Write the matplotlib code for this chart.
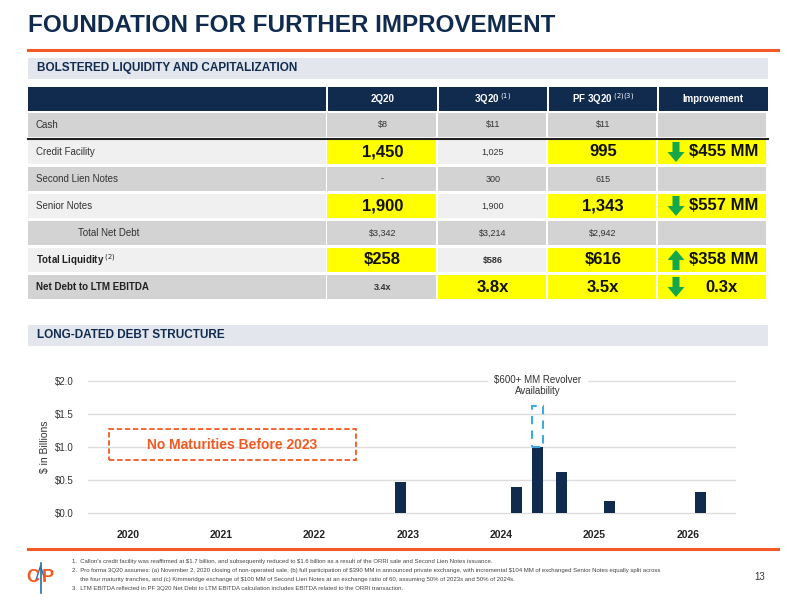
import matplotlib
matplotlib.use("Agg")
import matplotlib.pyplot as plt
from matplotlib.patches import Rectangle, FancyArrow

plt.rcParams['font.family'] = ['Liberation Sans', 'DejaVu Sans']

NAVY = '#112B4F'
ORANGE = '#F15A22'
YEL = '#FFFF00'
GREEN = '#14A84A'

# ---- data ----
row_labels = ['Cash', 'Credit Facility', 'Second Lien Notes', 'Senior Notes',
              'Total Net Debt', 'Total Liquidity', 'Net Debt to LTM EBITDA']
col_2q20 = ['$8', '1,450', '-', '1,900', '$3,342', '$258', '3.4x']
col_3q20 = ['$11', '1,025', '300', '1,900', '$3,214', '$586', '3.8x']
col_pf = ['$11', '995', '615', '1,343', '$2,942', '$616', '3.5x']
col_imp = ['', '$455 MM', '', '$557 MM', '', '$358 MM', '0.3x']
imp_dir = [0, -1, 0, -1, 0, 1, -1]
highlight = [[0, 0, 0, 0], [1, 0, 1, 1], [0, 0, 0, 0], [1, 0, 1, 1],
             [0, 0, 0, 0], [1, 0, 1, 1], [0, 1, 1, 1]]
headers = ['2Q20', '3Q20', 'PF 3Q20', 'Improvement']
header_sup = ['', '(1)', '(2)(3)', '']

years = [2020, 2021, 2022, 2023, 2024, 2025, 2026]
bar_x = [2022.92, 2024.16, 2024.39, 2024.65, 2025.16, 2026.14]
bar_h = [0.47, 0.39, 1.00, 0.62, 0.18, 0.32]
revolver_x = 2024.39
revolver_top = 1.62

fig = plt.figure(figsize=(8, 6), dpi=100)
bg = fig.add_axes([0, 0, 1, 1])
bg.set_xlim(0, 800); bg.set_ylim(600, 0); bg.axis('off')

# title
bg.text(28, 25, 'FOUNDATION FOR FURTHER IMPROVEMENT', fontsize=17.5, fontweight='bold',
        color=NAVY, va='center')
bg.plot([28, 778], [50, 50], color=ORANGE, lw=2.2)
# section bands
for y0, txt in [(58, 'BOLSTERED LIQUIDITY AND CAPITALIZATION'), (325, 'LONG-DATED DEBT STRUCTURE')]:
    bg.add_patch(Rectangle((28, y0), 740, 21, color='#E3E6ED', lw=0))
    bg.text(37, y0 + 10.5, txt, fontsize=8.5, fontweight='bold', color=NAVY, va='center')

# table
colx = [28, 327, 438, 548, 658, 768]
bg.add_patch(Rectangle((28, 87), 740, 24, color=NAVY, lw=0))
for j in range(4):
    cx = (colx[j + 1] + colx[j + 2]) / 2
    bg.add_patch(Rectangle((colx[j + 1] - 1, 87), 1.5, 24, color='white', lw=0))
    lbl = headers[j] + (r'$^{\ %s}$' % header_sup[j] if header_sup[j] else '')
    bg.text(cx, 99, lbl, fontsize=7, fontweight='bold', color='white', ha='center', va='center')

row_h = 24
for i, lab in enumerate(row_labels):
    y0 = 113 + i * 27
    base = '#D3D3D3' if i % 2 == 0 else '#F0F0F0'
    vals = [col_2q20[i], col_3q20[i], col_pf[i], col_imp[i]]
    bg.add_patch(Rectangle((28, y0), 298, row_h, color=base, lw=0))
    bold_row = i >= 5
    if lab == 'Total Net Debt':
        bg.text(78, y0 + 12, lab, fontsize=7, color='#333333', va='center')
    else:
        t = lab + (r'$^{\ (2)}$' if lab == 'Total Liquidity' else '')
        bg.text(36, y0 + 12, t, fontsize=7, color='#222222' if bold_row else '#333333',
                va='center', fontweight='bold' if bold_row else 'normal')
    for j in range(4):
        hl = highlight[i][j]
        bg.add_patch(Rectangle((colx[j + 1], y0), colx[j + 2] - colx[j + 1] - 2, row_h,
                               color=YEL if hl else base, lw=0))
        cx = (colx[j + 1] + colx[j + 2]) / 2
        if j < 3:
            bg.text(cx, y0 + 12, vals[j].replace('$', r'\$'), fontsize=12 if hl else 6.5,
                    fontweight='bold' if (hl or bold_row) else 'normal',
                    color='#111111' if hl else '#333333', ha='center', va='center')
        elif vals[j]:
            d = imp_dir[i]
            ax0 = 676
            if d < 0:
                bg.add_patch(FancyArrow(ax0, y0 + 2, 0, 20, width=7, head_width=17,
                                        head_length=10, length_includes_head=True,
                                        color=GREEN, lw=0))
            else:
                bg.add_patch(FancyArrow(ax0, y0 + 22, 0, -20, width=7, head_width=17,
                                        head_length=10, length_includes_head=True,
                                        color=GREEN, lw=0))
            tx = 724 if vals[j] != '0.3x' else 722
            bg.text(tx, y0 + 12, vals[j].replace('$', r'\$'), fontsize=12, fontweight='bold',
                    color='#111111', ha='center', va='center')
bg.plot([28, 768], [138.5, 138.5], color='#222222', lw=1.5)

# chart
px_l, px_r, px_t, px_b = 88, 735, 381, 513
ax = fig.add_axes([px_l / 800, 1 - px_b / 600, (px_r - px_l) / 800, (px_b - px_t) / 600])
ax.patch.set_alpha(0)
x_left = 2020 + (px_l - 128) / 93.3
x_right = 2020 + (px_r - 128) / 93.3
ax.set_xlim(x_left, x_right)
ax.set_ylim(0, 2.0)
for v in [0, 0.5, 1.0, 1.5, 2.0]:
    ax.axhline(v, color='#DDDDDD', lw=1, zorder=0, clip_on=False)
ax.bar(bar_x, bar_h, width=0.12, color=NAVY, zorder=3)
ax.add_patch(Rectangle((revolver_x - 0.06, 1.0), 0.12, revolver_top - 1.0, fill=False,
                       ls=(0, (4, 3)), lw=1.5, edgecolor='#3FA9E0', zorder=4))
ax.text(revolver_x, 1.93, '\\$600+ MM Revolver\nAvailability', fontsize=7, color='#333333',
        ha='center', va='center', backgroundcolor='white', zorder=5)
ax.add_patch(Rectangle((2019.8, 0.8), 2.64, 0.47, fill=False, ls=(0, (3, 1.5)),
                       lw=1.3, edgecolor=ORANGE, zorder=4))
ax.text(2021.12, 1.035, 'No Maturities Before 2023', fontsize=10, fontweight='bold',
        color=ORANGE, ha='center', va='center')
ax.set_xticks(years)
ax.set_xticklabels([str(y) for y in years], fontsize=7.5, fontweight='bold', color='#222222')
ax.set_yticks([0, 0.5, 1.0, 1.5, 2.0])
ax.set_yticklabels(['\\$0.0', '\\$0.5', '\\$1.0', '\\$1.5', '\\$2.0'], fontsize=7, color='#333333')
ax.tick_params(length=0, pad=12, axis='x')
ax.tick_params(length=0, pad=10, axis='y')
for s in ax.spines.values():
    s.set_visible(False)
ax.set_ylabel('\\$ in Billions', fontsize=7.5, color='#333333', labelpad=4)

# footer
bg.plot([28, 778], [549, 549], color=ORANGE, lw=2.2)
notes = ["1.  Callon's credit facility was reaffirmed at $1.7 billion, and subsequently reduced to $1.6 billion as a result of the ORRI sale and Second Lien Notes issuance.",
         "2.  Pro forma 3Q20 assumes: (a) November 2, 2020 closing of non-operated sale, (b) full participation of $390 MM in announced private exchange, with incremental $104 MM of exchanged Senior Notes equally split across",
         "     the four maturity tranches, and (c) Kimmeridge exchange of $100 MM of Second Lien Notes at an exchange ratio of 60, assuming 50% of 2023s and 50% of 2024s.",
         "3.  LTM EBITDA reflected in PF 3Q20 Net Debt to LTM EBITDA calculation includes EBITDA related to the ORRI transaction."]
for k, n in enumerate(notes):
    bg.text(72, 561 + k * 9.3, n.replace('$', r'\$'), fontsize=4.3, color='#444444', va='center')
bg.text(760, 577, '13', fontsize=7, color='#333333', va='center', ha='center')
bg.text(33, 577, 'C', fontsize=13, fontweight='bold', color=ORANGE, va='center', ha='center')
bg.text(48, 577, 'P', fontsize=13, fontweight='bold', color=ORANGE, va='center', ha='center')
bg.plot([40.5, 40.5], [563, 593], color='#2E6DA4', lw=1.2)
bg.plot([36, 40.5, 45], [580, 566, 580], color='#2E6DA4', lw=1)

fig.savefig('out.png', dpi=100)
